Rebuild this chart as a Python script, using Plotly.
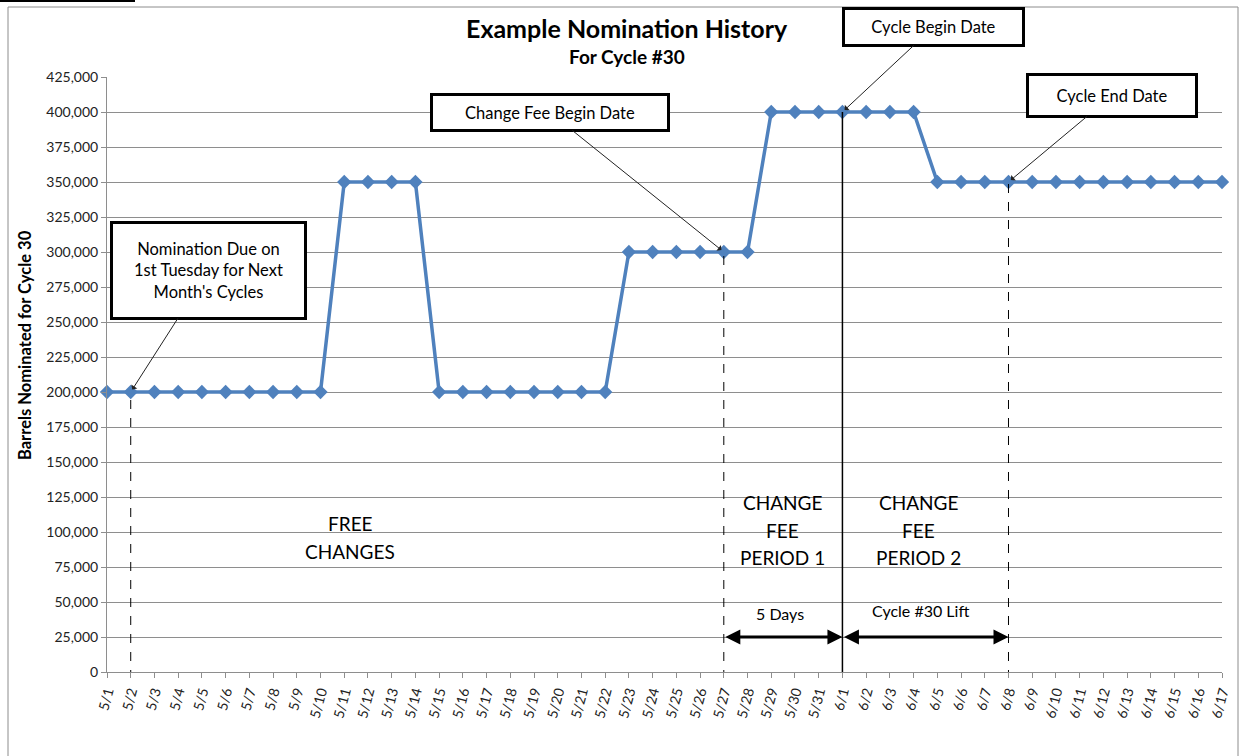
import plotly.graph_objects as go

# ---- data ----
may_days = [f"5/{d}" for d in range(1, 32)]
june_days = [f"6/{d}" for d in range(1, 18)]
dates = may_days + june_days

nominations = (
    [200000] * 10 +   # 5/1 - 5/10
    [350000] * 4 +    # 5/11 - 5/14
    [200000] * 8 +    # 5/15 - 5/22
    [300000] * 6 +    # 5/23 - 5/28
    [400000] * 7 +    # 5/29 - 6/4
    [350000] * 13     # 6/5 - 6/17
)

y_ticks = list(range(0, 425001, 25000))

nom_due = "5/2"
fee_begin = "5/27"
cycle_begin = "6/1"
cycle_end = "6/8"

FONT = "Lato"
BLUE = "#4F81BD"
GRID = "#8E8E8E"

idx = {d: i for i, d in enumerate(dates)}
val = dict(zip(dates, nominations))

# plot area pixel geometry
L, R, T, B = 107, 1222, 77, 672
W, H = R - L, B - T
def px(x): return (x - L) / W
def py(y): return (B - y) / H

fig = go.Figure()
fig.add_trace(go.Scatter(
    x=list(range(len(dates))), y=nominations, mode="lines+markers",
    line=dict(color=BLUE, width=3.5),
    marker=dict(symbol="diamond", size=11, color=BLUE),
    cliponaxis=False, showlegend=False, hoverinfo="skip"))

shapes = []
# outer chart border
shapes.append(dict(type="rect", xref="paper", yref="paper",
                   x0=px(8), x1=px(1238), y0=py(762), y1=py(7),
                   line=dict(color="#8C8C8C", width=1), layer="below"))
# black bar top-left
shapes.append(dict(type="rect", xref="paper", yref="paper",
                   x0=px(-2), x1=px(135), y0=py(2), y1=py(-2),
                   fillcolor="black", line=dict(width=0)))
# vertical reference lines
for d, dash, w in [(nom_due, "dash", 1), (fee_begin, "dash", 1),
                   (cycle_begin, "solid", 1.5), (cycle_end, "dash", 1)]:
    shapes.append(dict(type="line", xref="x", yref="y",
                       x0=idx[d], x1=idx[d], y0=-5000, y1=val[d],
                       line=dict(color="black", width=w, dash=dash)))

ann = []
def label(text, xpx, ypx, size, bold=False, angle=0):
    ann.append(dict(text=f"<b>{text}</b>" if bold else text,
                    xref="paper", yref="paper", x=px(xpx), y=py(ypx),
                    xanchor="center", yanchor="middle", textangle=angle,
                    showarrow=False, font=dict(family=FONT, size=size, color="black")))

label("Example Nomination History", 627, 28, 25, bold=True)
label("For Cycle #30", 627, 57, 19, bold=True)
label("Barrels Nominated for Cycle 30", 25, 345, 16.5, bold=True, angle=-90)

# callout boxes
def callout(text, d, cx, cy, w, h):
    hx = L + idx[d] * W / (len(dates) - 1)
    hy = B - val[d] / 425000 * H
    ann.append(dict(text=text, x=idx[d], y=val[d], xref="x", yref="y",
                    ax=cx - hx, ay=cy - hy, axref="pixel", ayref="pixel",
                    showarrow=True, arrowhead=1, arrowsize=1.2, arrowwidth=1,
                    arrowcolor="#222", standoff=3,
                    bgcolor="white", bordercolor="black", borderwidth=3, borderpad=1,
                    width=w - 8, height=h - 8,
                    font=dict(family=FONT, size=16.5, color="black")))

callout("Nomination Due on<br>1st Tuesday for Next<br>Month's Cycles", nom_due, 208.5, 270.5, 197, 99)
callout("Change Fee Begin Date", fee_begin, 550, 112.5, 240, 39)
callout("Cycle Begin Date", cycle_begin, 933.5, 27, 183, 40)
callout("Cycle End Date", cycle_end, 1112, 95.5, 172, 45)

label("FREE", 350, 523, 19)
label("CHANGES", 350, 551, 19)
for cx, n in [(782, "1"), (919, "2")]:
    label("CHANGE", cx, 502, 19)
    label("FEE", cx, 530, 19)
    label("PERIOD " + n, cx, 557, 19)
label("5 Days", 780, 613, 16)
label("Cycle #30 Lift", 920, 610, 16)

# double-headed arrows
for a, b in [(fee_begin, cycle_begin), (cycle_begin, cycle_end)]:
    ann.append(dict(text="", x=idx[b], y=25000, ax=idx[a], ay=25000,
                    xref="x", yref="y", axref="x", ayref="y",
                    showarrow=True, arrowside="end+start", arrowhead=2,
                    arrowsize=1, arrowwidth=3, arrowcolor="black", standoff=0, startstandoff=0))

fig.update_layout(
    width=1248, height=756,
    margin=dict(l=L, r=1248 - R, t=T, b=756 - B, autoexpand=False),
    paper_bgcolor="white", plot_bgcolor="white",
    font=dict(family=FONT, size=14, color="black"),
    shapes=shapes, annotations=ann,
    xaxis=dict(range=[0, len(dates) - 1], tickmode="array",
               tickvals=list(range(len(dates))), ticktext=dates, tickangle=-75,
               showgrid=False, showline=True, linecolor=GRID, linewidth=1,
               ticks="outside", ticklen=5, tickcolor=GRID, zeroline=False,
               tickfont=dict(family=FONT, size=14, color="#222")),
    yaxis=dict(range=[0, 425000], tickmode="array", tickvals=y_ticks,
               ticktext=[f"{v:,}" for v in y_ticks],
               showgrid=True, gridcolor=GRID, gridwidth=1,
               showline=True, linecolor=GRID, linewidth=1,
               ticks="outside", ticklen=5, tickcolor=GRID, zeroline=False,
               tickfont=dict(family=FONT, size=14, color="#222")),
)

fig.write_html("out.html", config={"displayModeBar": False},
               post_script="document.body.style.margin='0';")
